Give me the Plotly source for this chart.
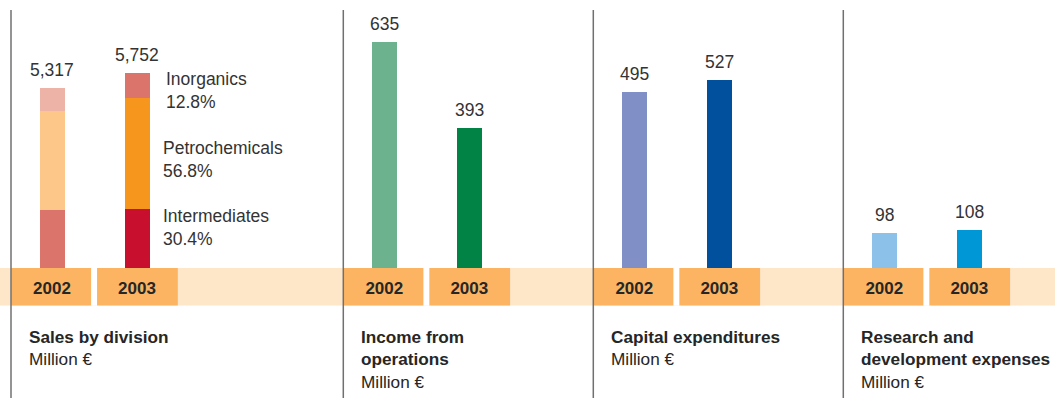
import plotly.graph_objects as go

# ---- data -------------------------------------------------------------
years = ["2002", "2003"]

# Sales by division (million €), stacked bottom -> top
intermediates = [1720, 1749]
petrochemicals = [2920, 3267]
inorganics = [677, 736]
sales_total = [5317, 5752]
division_names = ["Inorganics", "Petrochemicals", "Intermediates"]
division_share_2003 = ["12.8%", "56.8%", "30.4%"]

income_from_operations = [635, 393]
capital_expenditures = [495, 527]
research_development = [98, 108]

panel_titles = [
    ["Sales by division"],
    ["Income from", "operations"],
    ["Capital expenditures"],
    ["Research and", "development expenses"],
]
unit_label = "Million €"

# ---- styling ----------------------------------------------------------
W, H = 1055, 398
FONT = "Liberation Sans, Arial, Helvetica, sans-serif"
TEXT = "#333333"
DARK_TEXT = "#262626"
BAND_LIGHT = "#FEE6C9"
BAND_DARK = "#FCB462"
RULE = "#707070"

panel_left = [11, 343.3, 593.3, 843.3]   # separator rule positions (px)
baseline_px = 268                        # top of the year band
band_bottom_px = 305.5
unit_px = 85                              # pixel width of one category step

def px_x(p):
    return p / W

def px_y(p):
    return 1 - p / H

y_domain = [px_y(baseline_px), 1]

fig = go.Figure()

# Panel 1: stacked sales by division
seg_colors = {
    "Intermediates": ["#DB746A", "#C8102E"],
    "Petrochemicals": ["#FDC78A", "#F7961D"],
    "Inorganics": ["#EEB3A7", "#DB746A"],
}
for name, vals in [("Intermediates", intermediates),
                   ("Petrochemicals", petrochemicals),
                   ("Inorganics", inorganics)]:
    fig.add_trace(go.Bar(
        x=years, y=vals, name=name, xaxis="x", yaxis="y",
        marker=dict(color=seg_colors[name], line=dict(width=0)),
        width=25 / unit_px, showlegend=False, hoverinfo="skip",
    ))

# Panels 2-4: single bars per year
single_panels = [
    (income_from_operations, ["#6DB28F", "#008344"]),
    (capital_expenditures, ["#8090C6", "#00509D"]),
    (research_development, ["#8CC1E9", "#0097D7"]),
]
for k, (vals, cols) in enumerate(single_panels, start=2):
    fig.add_trace(go.Bar(
        x=years, y=vals, xaxis=f"x{k}", yaxis=f"y{k}",
        marker=dict(color=cols, line=dict(width=0)),
        width=25 / unit_px, showlegend=False, hoverinfo="skip",
    ))

# Axes
layout_axes = {}
for k, L in enumerate(panel_left, start=1):
    sfx = "" if k == 1 else str(k)
    layout_axes[f"xaxis{sfx}"] = dict(
        domain=[px_x(L - 1.5), px_x(L + 168.5)],
        type="category", range=[-0.5, 1.5],
        anchor=f"y{sfx}", showgrid=False, zeroline=False, showline=False,
        ticks="", tickfont=dict(family=FONT, size=17, color=DARK_TEXT, weight="bold"),
        ticklabelstandoff=8,
        fixedrange=True,
    )
    layout_axes[f"yaxis{sfx}"] = dict(
        domain=y_domain, range=[0, 7900] if k == 1 else [0, 753],
        anchor=f"x{sfx}", visible=False, fixedrange=True,
    )

shapes = []
# light band across the whole width
shapes.append(dict(type="rect", xref="paper", yref="paper", layer="below",
                   x0=0, x1=1, y0=px_y(band_bottom_px), y1=px_y(baseline_px),
                   fillcolor=BAND_LIGHT, line=dict(width=0)))
# dark year boxes with a white gap between them
for k in range(1, 5):
    sfx = "" if k == 1 else str(k)
    xr = f"x{sfx}"
    shapes.append(dict(type="rect", xref=xr, yref="paper", layer="below",
                       x0=0.44, x1=0.55, y0=px_y(band_bottom_px), y1=px_y(baseline_px),
                       fillcolor="white", line=dict(width=0)))
    for x0, x1 in [(-0.48, 0.46), (0.53, 1.48)]:
        shapes.append(dict(type="rect", xref=xr, yref="paper", layer="below",
                           x0=x0, x1=x1, y0=px_y(band_bottom_px), y1=px_y(baseline_px),
                           fillcolor=BAND_DARK, line=dict(width=0)))
# separator rules
for L in panel_left:
    shapes.append(dict(type="line", xref="paper", yref="paper", layer="above",
                       x0=px_x(L), x1=px_x(L), y0=0, y1=px_y(10),
                       line=dict(color=RULE, width=1.5)))

annotations = []
val_font = dict(family=FONT, size=17.5, color=TEXT)

# totals above the stacked bars (category axes take the serial index)
for i, tot in enumerate(sales_total):
    annotations.append(dict(x=i, y=tot, xref="x", yref="y", text=f"{tot:,}",
                            showarrow=False, yanchor="bottom", yshift=6, font=val_font))
# values above the single bars
for k, (vals, _) in enumerate(single_panels, start=2):
    for i, v in enumerate(vals):
        annotations.append(dict(x=i, y=v, xref=f"x{k}", yref=f"y{k}", text=f"{v:,}",
                                showarrow=False, yanchor="bottom", yshift=6, font=val_font))

# division labels beside the 2003 bar
div_label_pos = [(164, 90.3), (161, 159.3), (161, 227.3)]
for name, share, (px, py) in zip(division_names, division_share_2003, div_label_pos):
    annotations.append(dict(x=px_x(px), y=px_y(py), xref="paper", yref="paper",
                            text=f"{name}<br>{share}", align="left",
                            xanchor="left", yanchor="middle", showarrow=False,
                            font=val_font))

# panel captions
for L, lines in zip(panel_left, panel_titles):
    txt = "<br>".join(f"<b>{t}</b>" for t in lines) + "<br>" + unit_label
    annotations.append(dict(x=px_x(L + 15.5), y=px_y(325), xref="paper", yref="paper",
                            text=txt, align="left", xanchor="left", yanchor="top",
                            showarrow=False, font=dict(family=FONT, size=17.2, color=DARK_TEXT)))

fig.update_layout(
    width=W, height=H,
    margin=dict(l=0, r=0, t=0, b=0),
    paper_bgcolor="white", plot_bgcolor="rgba(0,0,0,0)",
    barmode="stack", bargap=0,
    shapes=shapes, annotations=annotations,
    **layout_axes,
)

fig.write_html("out.html", config={"displayModeBar": False})
